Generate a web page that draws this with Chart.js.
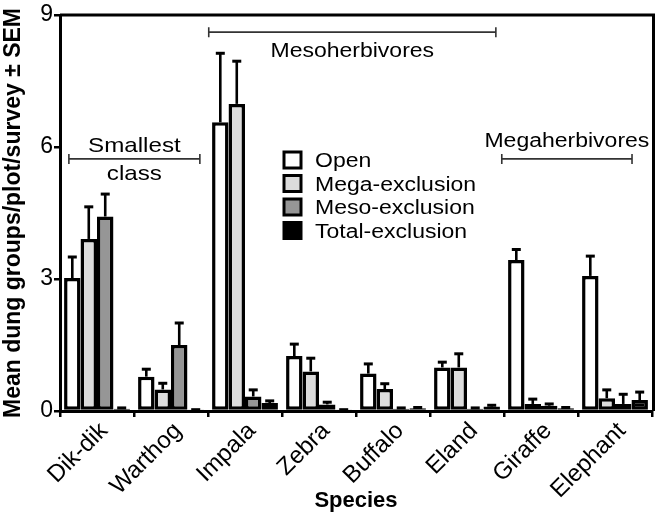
<!DOCTYPE html>
<html>
<head>
<meta charset="utf-8">
<script src="https://cdn.jsdelivr.net/npm/chart.js@4.4.1/dist/chart.umd.min.js"></script>
<style>
  html, body { margin: 0; padding: 0; background: #fff; }
  #wrap { width: 662px; height: 520px; }
</style>
</head>
<body>
<div id="wrap"><canvas id="c" width="662" height="520"></canvas></div>
<script>
const species = ["Dik-dik", "Warthog", "Impala", "Zebra", "Buffalo", "Eland", "Giraffe", "Elephant"];
const yTicks = [0, 3, 6, 9];

// means and SEM
const openMean  = [3.02, 0.78, 6.56, 1.25, 0.85, 0.99, 3.43, 3.07];
const openSem   = [0.48, 0.17, 1.57, 0.27, 0.22, 0.12, 0.24, 0.45];
const megaMean  = [3.91, 0.49, 6.98, 0.90, 0.50, 0.99, 0.16, 0.29];
const megaSem   = [0.73, 0.14, 0.97, 0.30, 0.12, 0.31, 0.11, 0.19];
const mesoMean  = [4.42, 1.50, 0.33, 0.15, 0.05, 0.05, 0.12, 0.16];
const mesoSem   = [0.51, 0.50, 0.15, 0.05, 0.02, 0.02, 0.04, 0.22];
const totalMean = [0.05, 0.02, 0.18, 0.02, 0.06, 0.10, 0.06, 0.25];
const totalSem  = [0.02, 0.01, 0.05, 0.01, 0.02, 0.03, 0.02, 0.18];

const seriesNames  = ["Open", "Mega-exclusion", "Meso-exclusion", "Total-exclusion"];
const seriesColors = ["#ffffff", "#dcdcdc", "#969696", "#000000"];

// bracket spans in category units, height in data units
const groups = [
  { lines: ["Smallest", "class"], from: -0.38, to: 1.39, at: 5.73, textAbove: false },
  { lines: ["Mesoherbivores"], from: 1.51, to: 5.39, at: 8.61, textAbove: false },
  { lines: ["Megaherbivores"], from: 5.47, to: 7.23, at: 5.73, textAbove: true },
];

const FONT = '"Liberation Sans", Arial, sans-serif';

function stretchText(ctx, str, x, y, size, align) {
  ctx.save();
  ctx.translate(x, y);
  ctx.scale(1.15, 1);
  ctx.font = size + "px " + FONT;
  ctx.fillStyle = "#000";
  ctx.textAlign = align;
  ctx.textBaseline = "alphabetic";
  ctx.fillText(str, 0, 0);
  ctx.restore();
}

const errorBars = {
  id: "errorBars",
  afterDatasetsDraw(chart) {
    const { ctx, scales: { y } } = chart;
    ctx.save();
    ctx.strokeStyle = "#000";
    chart.data.datasets.forEach((ds, di) => {
      chart.getDatasetMeta(di).data.forEach((bar, i) => {
        const top = y.getPixelForValue(ds.data[i] + ds.sem[i]);
        ctx.lineWidth = 2.6;
        ctx.beginPath();
        ctx.moveTo(bar.x, bar.y);
        ctx.lineTo(bar.x, top);
        ctx.stroke();
        ctx.lineWidth = 3;
        ctx.beginPath();
        ctx.moveTo(bar.x - 4.5, top);
        ctx.lineTo(bar.x + 4.5, top);
        ctx.stroke();
      });
    });
    ctx.restore();
  }
};

const extras = {
  id: "extras",
  afterDraw(chart) {
    const { ctx, chartArea: a, scales: { x, y } } = chart;
    const step = x.getPixelForValue(1) - x.getPixelForValue(0);
    ctx.save();
    // frame top and right
    ctx.strokeStyle = "#000";
    ctx.lineWidth = 3;
    ctx.beginPath();
    ctx.moveTo(a.left, a.top);
    ctx.lineTo(a.right + 1.5, a.top);
    ctx.lineTo(a.right + 1.5, a.bottom);
    ctx.stroke();

    // group brackets
    groups.forEach((g) => {
      const x0 = x.getPixelForValue(0) + g.from * step;
      const x1 = x.getPixelForValue(0) + g.to * step;
      const py = y.getPixelForValue(g.at);
      ctx.strokeStyle = "#333";
      ctx.lineWidth = 1.6;
      ctx.beginPath();
      ctx.moveTo(x0, py); ctx.lineTo(x1, py);
      ctx.moveTo(x0, py - 5); ctx.lineTo(x0, py + 5);
      ctx.moveTo(x1, py - 5); ctx.lineTo(x1, py + 5);
      ctx.stroke();
      const cx = (x0 + x1) / 2;
      if (g.lines.length === 2) {
        stretchText(ctx, g.lines[0], cx, py - 7, 21, "center");
        stretchText(ctx, g.lines[1], cx, py + 21, 21, "center");
      } else if (g.textAbove) {
        stretchText(ctx, g.lines[0], cx, py - 12, 20, "center");
      } else {
        stretchText(ctx, g.lines[0], cx, py + 25, 20, "center");
      }
    });

    // legend
    seriesNames.forEach((name, i) => {
      const cy = 160 + i * 23.5;
      ctx.fillStyle = seriesColors[i];
      ctx.fillRect(284, cy - 8, 17, 16);
      ctx.strokeStyle = "#000";
      ctx.lineWidth = 3;
      ctx.strokeRect(284, cy - 8, 17, 16);
      stretchText(ctx, name, 315, cy + 7, 20, "left");
    });
    ctx.restore();
  }
};

const means = [openMean, megaMean, mesoMean, totalMean];
const sems  = [openSem, megaSem, mesoSem, totalSem];

new Chart(document.getElementById("c"), {
  type: "bar",
  data: {
    labels: species,
    datasets: seriesNames.map((name, i) => ({
      label: name,
      data: means[i],
      sem: sems[i],
      backgroundColor: seriesColors[i],
      borderColor: "#000",
      borderWidth: 3.5,
      borderSkipped: false,
      categoryPercentage: 0.89,
      barPercentage: 1.0,
    })),
  },
  options: {
    responsive: false,
    animation: false,
    devicePixelRatio: 1,
    layout: { padding: { top: 15, right: 10, bottom: 6, left: 0 } },
    plugins: { legend: { display: false }, tooltip: { enabled: false } },
    scales: {
      x: {
        grid: { display: true, drawOnChartArea: false, drawTicks: true, tickLength: 6, color: "#000", lineWidth: 2.5 },
        border: { display: true, color: "#000", width: 3 },
        ticks: { color: "#000", font: { family: FONT, size: 24 }, maxRotation: 45, minRotation: 45, autoSkip: false, padding: 0, labelOffset: 7 },
        title: { display: true, text: "Species", color: "#000", font: { family: FONT, size: 22, weight: "bold" }, padding: { top: 0, bottom: 0 } },
        afterFit: (s) => { s.height = 103; },
      },
      y: {
        min: 0, max: 9,
        afterBuildTicks: (s) => { s.ticks = yTicks.map((v) => ({ value: v })); },
        grid: { display: true, drawOnChartArea: false, drawTicks: true, tickLength: 6, color: "#000", lineWidth: 2.5 },
        border: { display: true, color: "#000", width: 3 },
        ticks: { color: "#000", font: { family: FONT, size: 23 }, padding: 1 },
        title: { display: true, text: "Mean dung groups/plot/survey ± SEM", color: "#000", font: { family: FONT, size: 23, weight: "bold" }, padding: 0 },
        afterFit: (s) => { s.width = 60; },
      },
    },
  },
  plugins: [errorBars, extras],
});
</script>
</body>
</html>
